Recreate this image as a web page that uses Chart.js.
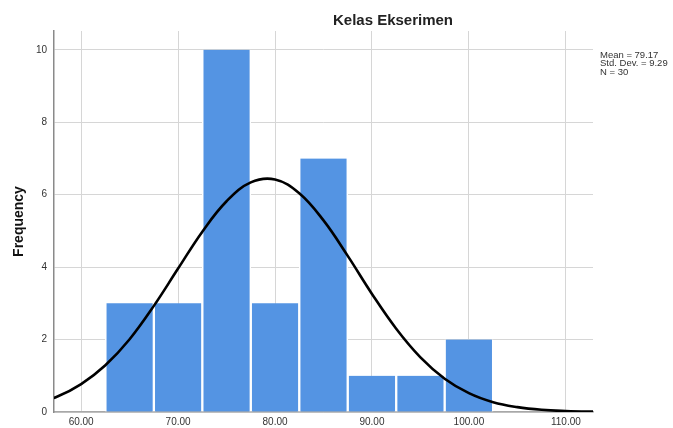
<!DOCTYPE html>
<html>
<head>
<meta charset="utf-8">
<script src="https://cdn.jsdelivr.net/npm/chart.js@4/dist/chart.umd.min.js"></script>
<style>
  html, body { margin: 0; padding: 0; background: #ffffff; }
  #wrap { width: 673px; height: 428px; }
</style>
</head>
<body>
<div id="wrap"><canvas id="c" width="673" height="428"></canvas></div>
<script>
// Histogram bins (centres, width 5) and their frequencies
const binCentres = [65, 70, 75, 80, 85, 90, 95, 100];
const frequencies = [3, 3, 10, 3, 7, 1, 1, 2];

// Fitted normal curve, sampled every 2.5 along the value axis (clipped at the plot edges)
const curveX = [55, 57.5, 60, 62.5, 65, 67.5, 70, 72.5, 75, 77.5, 80, 82.5, 85, 87.5, 90, 92.5, 95, 97.5, 100, 102.5, 105, 107.5, 110, 112.5, 115];
const curveY = [0.22, 0.42, 0.77, 1.29, 2.01, 2.93, 3.96, 4.98, 5.82, 6.34, 6.42, 6.04, 5.29, 4.31, 3.26, 2.30, 1.51, 0.92, 0.52, 0.27, 0.135, 0.06, 0.026, 0.01, 0.004];

// Axis ticks
const xTickValues = [60, 70, 80, 90, 100, 110];
const yTickValues = [0, 2, 4, 6, 8, 10];

// Summary text
const chartTitle = 'Kelas Ekserimen';
const statsLines = ['Mean = 79.17', 'Std. Dev. = 9.29', 'N = 30'];

const FONT = "'Liberation Sans', Arial, sans-serif";

const annotations = {
  id: 'annotations',
  afterDraw(chart) {
    const ctx = chart.ctx;
    ctx.save();
    ctx.fillStyle = '#222222';
    ctx.font = 'bold 15px ' + FONT;
    ctx.textAlign = 'center';
    ctx.textBaseline = 'middle';
    ctx.fillText(chartTitle, 393, 21);

    ctx.fillStyle = '#333333';
    ctx.font = '9.5px ' + FONT;
    ctx.textAlign = 'left';
    statsLines.forEach((t, i) => ctx.fillText(t, 600, 55.5 + i * 8.3));
    ctx.restore();
  }
};

new Chart(document.getElementById('c'), {
  type: 'bar',
  data: {
    datasets: [
      {
        type: 'line',
        data: curveX.map((x, i) => ({ x, y: curveY[i] })),
        borderColor: '#000000',
        borderWidth: 2.6,
        pointRadius: 0,
        tension: 0.4,
        fill: false,
        order: 0
      },
      {
        type: 'bar',
        data: binCentres.map((x, i) => ({ x, y: frequencies[i] })),
        backgroundColor: '#5494e3',
        borderColor: '#ffffff',
        borderWidth: { left: 1.5, right: 1.5, top: 0, bottom: 0 },
        borderSkipped: false,
        barPercentage: 1,
        categoryPercentage: 1,
        order: 1
      }
    ]
  },
  options: {
    responsive: false,
    animation: false,
    devicePixelRatio: 1,
    layout: { padding: { top: 31, right: 80, left: 0, bottom: 0 } },
    plugins: {
      legend: { display: false },
      tooltip: { enabled: false },
      title: { display: false }
    },
    scales: {
      x: {
        type: 'linear',
        min: 57.2,
        max: 112.8,
        offset: false,
        afterBuildTicks: s => { s.ticks = xTickValues.map(v => ({ value: v })); },
        afterFit: s => { s.height = 16; },
        grid: { color: '#d6d6d6', lineWidth: 1, drawTicks: false, offset: false },
        border: { color: '#a8a8a8', width: 1.5 },
        ticks: {
          padding: 4,
          color: '#333333',
          font: { family: FONT, size: 10 },
          callback: v => Number(v).toFixed(2)
        }
      },
      y: {
        min: 0,
        max: 10.52,
        afterBuildTicks: s => { s.ticks = yTickValues.map(v => ({ value: v })); },
        afterFit: s => { s.width = 54; },
        grid: { color: '#d6d6d6', lineWidth: 1, drawTicks: false },
        border: { color: '#8a8a8a', width: 1.5 },
        ticks: {
          padding: 7,
          color: '#333333',
          font: { family: FONT, size: 10 }
        },
        title: {
          display: true,
          text: 'Frequency',
          color: '#111111',
          font: { family: FONT, size: 14, weight: 'bold' },
          padding: { top: 11, bottom: 0 }
        }
      }
    }
  },
  plugins: [annotations]
});
</script>
</body>
</html>
